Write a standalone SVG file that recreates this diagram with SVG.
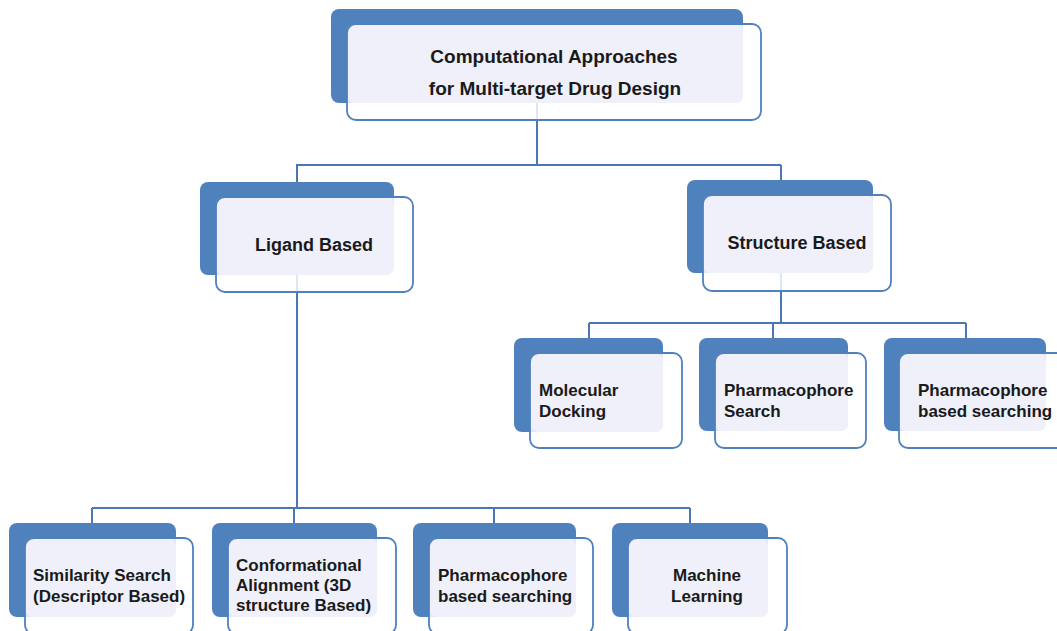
<svg xmlns="http://www.w3.org/2000/svg" width="1057" height="631" viewBox="0 0 1057 631">
  <style>
    .conn { fill: none; stroke: #4A78B4; stroke-width: 2; }
    .back { fill: #4F81BD; }
    .veil { fill: #ffffff; fill-opacity: 0.82; }
    .face { fill: #EFF0FA; }
    .edge { fill: none; stroke: #4F81BD; stroke-width: 1.8; }
    .lbl { font-family: "Liberation Sans", Arial, sans-serif; font-weight: bold; fill: #1a1a1a; }
    .l0 { font-size: 19px; }
    .l1 { font-size: 18px; }
    .l2 { font-size: 17px; }
  </style>

  <!-- connectors (drawn beneath the boxes) -->
  <g id="connectors">
    <path class="conn" d="M537 103 V165 M296 165 H781"/>
    <path class="conn" d="M297 165 V508"/>
    <path class="conn" d="M781 165 V323 M589 323 H966 M589 323 V338 M773 323 V338 M966 323 V338"/>
    <path class="conn" d="M92 508 H690 M92 508 V523 M294 508 V523 M494 508 V523 M690 508 V523"/>
  </g>

  <!-- root -->
  <g id="root">
    <rect class="back" x="331" y="9" width="412" height="94" rx="8"/>
    <rect class="veil" x="347" y="24" width="414" height="96" rx="9"/>
    <rect class="face" x="347" y="24" width="396" height="79" rx="8"/>
    <rect class="edge" x="347" y="24" width="414" height="96" rx="9"/>
    <text class="lbl l0" x="554" y="63" text-anchor="middle">Computational Approaches</text>
    <text class="lbl l0" x="555" y="95" text-anchor="middle">for Multi-target Drug Design</text>
  </g>

  <!-- ligand based -->
  <g id="ligand-based">
    <rect class="back" x="200" y="182" width="194" height="93" rx="8"/>
    <rect class="veil" x="216" y="197" width="197" height="95" rx="9"/>
    <rect class="face" x="216" y="197" width="178" height="78" rx="8"/>
    <rect class="edge" x="216" y="197" width="197" height="95" rx="9"/>
    <text class="lbl l1" x="314" y="251" text-anchor="middle">Ligand Based</text>
  </g>

  <!-- structure based -->
  <g id="structure-based">
    <rect class="back" x="687" y="180" width="186" height="93" rx="8"/>
    <rect class="veil" x="703" y="195" width="188" height="96" rx="9"/>
    <rect class="face" x="703" y="195" width="170" height="78" rx="8"/>
    <rect class="edge" x="703" y="195" width="188" height="96" rx="9"/>
    <text class="lbl l1" x="797" y="249" text-anchor="middle">Structure Based</text>
  </g>

  <!-- structure based children -->
  <g id="molecular-docking">
    <rect class="back" x="514" y="338" width="149" height="94" rx="8"/>
    <rect class="veil" x="530" y="353" width="152" height="95" rx="9"/>
    <rect class="face" x="530" y="353" width="133" height="79" rx="8"/>
    <rect class="edge" x="530" y="353" width="152" height="95" rx="9"/>
    <text class="lbl l2" x="539" y="396">Molecular</text>
    <text class="lbl l2" x="539" y="417">Docking</text>
  </g>

  <g id="pharmacophore-search">
    <rect class="back" x="699" y="338" width="149" height="93" rx="8"/>
    <rect class="veil" x="715" y="353" width="151" height="95" rx="9"/>
    <rect class="face" x="715" y="353" width="133" height="78" rx="8"/>
    <rect class="edge" x="715" y="353" width="151" height="95" rx="9"/>
    <text class="lbl l2" x="724" y="396">Pharmacophore</text>
    <text class="lbl l2" x="724" y="417">Search</text>
  </g>

  <g id="pharmacophore-searching-sb">
    <rect class="back" x="884" y="338" width="162" height="93" rx="8"/>
    <rect class="veil" x="899" y="353" width="168" height="95" rx="9"/>
    <rect class="face" x="899" y="353" width="147" height="78" rx="8"/>
    <rect class="edge" x="899" y="353" width="168" height="95" rx="9"/>
    <text class="lbl l2" x="918" y="396">Pharmacophore</text>
    <text class="lbl l2" x="918" y="417">based searching</text>
  </g>

  <!-- ligand based children -->
  <g id="similarity-search">
    <rect class="back" x="9" y="523" width="167" height="94" rx="8"/>
    <rect class="veil" x="25" y="538" width="168" height="96" rx="9"/>
    <rect class="face" x="25" y="538" width="151" height="79" rx="8"/>
    <rect class="edge" x="25" y="538" width="168" height="96" rx="9"/>
    <text class="lbl l2" x="33" y="581">Similarity Search</text>
    <text class="lbl l2" x="33" y="602">(Descriptor Based)</text>
  </g>

  <g id="conformational-alignment">
    <rect class="back" x="212" y="523" width="165" height="94" rx="8"/>
    <rect class="veil" x="228" y="538" width="168" height="96" rx="9"/>
    <rect class="face" x="228" y="538" width="149" height="79" rx="8"/>
    <rect class="edge" x="228" y="538" width="168" height="96" rx="9"/>
    <text class="lbl l2" x="236" y="571">Conformational</text>
    <text class="lbl l2" x="236" y="591">Alignment (3D</text>
    <text class="lbl l2" x="236" y="611">structure Based)</text>
  </g>

  <g id="pharmacophore-searching-lb">
    <rect class="back" x="413" y="523" width="163" height="94" rx="8"/>
    <rect class="veil" x="429" y="538" width="164" height="96" rx="9"/>
    <rect class="face" x="429" y="538" width="147" height="79" rx="8"/>
    <rect class="edge" x="429" y="538" width="164" height="96" rx="9"/>
    <text class="lbl l2" x="438" y="581">Pharmacophore</text>
    <text class="lbl l2" x="438" y="602">based searching</text>
  </g>

  <g id="machine-learning">
    <rect class="back" x="612" y="523" width="156" height="94" rx="8"/>
    <rect class="veil" x="628" y="538" width="159" height="96" rx="9"/>
    <rect class="face" x="628" y="538" width="140" height="79" rx="8"/>
    <rect class="edge" x="628" y="538" width="159" height="96" rx="9"/>
    <text class="lbl l2" x="707" y="581" text-anchor="middle">Machine</text>
    <text class="lbl l2" x="707" y="602" text-anchor="middle">Learning</text>
  </g>
</svg>
